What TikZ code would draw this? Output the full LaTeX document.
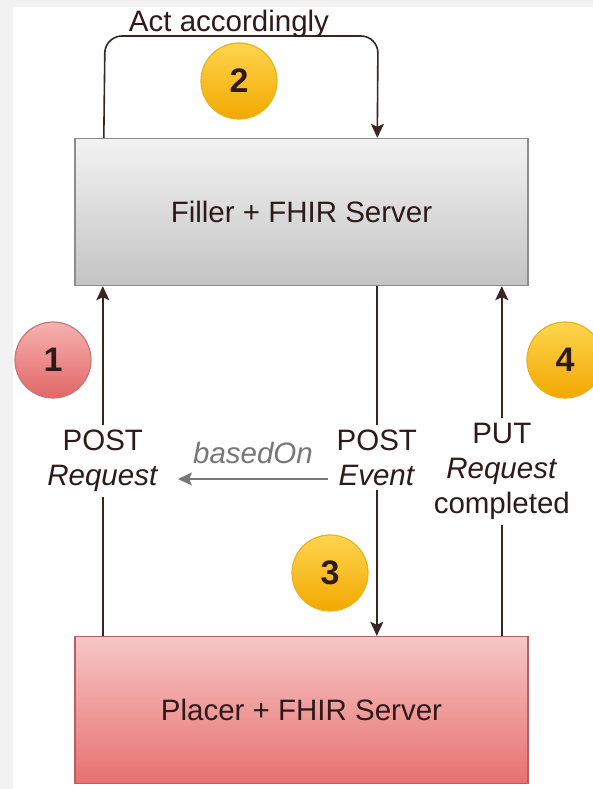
\documentclass[tikz,border=0pt]{standalone}
\usepackage{fontspec}
\setmainfont{Liberation Sans}
\usetikzlibrary{arrows.meta}
\definecolor{bgc}{HTML}{F2F2F2}
\definecolor{linec}{HTML}{3A2424}
\definecolor{txtc}{HTML}{2E1A1A}
\definecolor{fillertop}{HTML}{F2F2F2}
\definecolor{fillerbot}{HTML}{C4C4C4}
\definecolor{fillerdraw}{HTML}{8C8C8C}
\definecolor{placertop}{HTML}{F6C6C6}
\definecolor{placerbot}{HTML}{E8716F}
\definecolor{placerdraw}{HTML}{B86060}
\definecolor{redtop}{HTML}{F6B2B0}
\definecolor{redbot}{HTML}{E26666}
\definecolor{reddraw}{HTML}{C87878}
\definecolor{yeltop}{HTML}{FFD54F}
\definecolor{yelbot}{HTML}{F2A800}
\definecolor{yeldraw}{HTML}{EDB21A}
\definecolor{greyarrow}{HTML}{777777}
\tikzset{
  server/.style={draw=#1, line width=1.4pt, minimum width=453pt, minimum height=147pt,
    text=txtc, inner sep=0pt},
  conn/.style={draw=linec, line width=1.6pt},
  tip/.style={-{Stealth[length=14pt,width=13pt,inset=3pt]}},
  lbl/.style={fill=white, align=center, inner sep=5pt, text=txtc},
  badge/.style={circle, minimum size=76pt, inner sep=0pt, line width=1.2pt,
    font=\fontsize{34}{34}\selectfont\bfseries, text=txtc},
  redbadge/.style={badge, draw=reddraw, top color=redtop, bottom color=redbot},
  yelbadge/.style={badge, draw=yeldraw, top color=yeltop, bottom color=yelbot},
}
\begin{document}
\begin{tikzpicture}[x=1pt, y=-1pt, font=\fontsize{29.5}{35}\selectfont]
\useasboundingbox (0,0) rectangle (593,789);
\clip (0,0) rectangle (593,789);
\fill[bgc] (0,0) rectangle (593,789);
\fill[white] (13,7) rectangle (593,789);

% servers
\node[server=fillerdraw, top color=fillertop, bottom color=fillerbot] (filler) at (301.5,212) {Filler + FHIR Server};
\node[server=placerdraw, top color=placertop, bottom color=placerbot] (placer) at (301.5,710) {Placer + FHIR Server};

% badges
\node[redbadge] (b1) at (53,360) {1};
\node[yelbadge] (b2) at (239,81) {2};
\node[yelbadge] (b3) at (330,573) {3};
\node[yelbadge] (b4) at (565,360) {4};

% top loop
\coordinate (tl) at (105,36);
\coordinate (tr) at (378,36);
\draw[conn, tip, rounded corners=17pt] ([xshift=29.5pt]filler.north west) -- (tl) -- (tr) -- ([xshift=303pt]filler.north west);
\node[anchor=base, text=txtc, inner sep=0pt] (act) at (229,32) {Act accordingly};

% vertical connectors
\draw[conn, tip] ([xshift=28.5pt]placer.north west) -- node[lbl] (lreq) {POST\\\textit{Request}} ([xshift=28.5pt]filler.south west);
\draw[conn, tip] ([xshift=302.5pt]filler.south west) -- node[lbl, pos=0.49] (lev) {POST\\\textit{Event}} ([xshift=302.5pt]placer.north west);
\draw[conn, tip] ([xshift=427.5pt]placer.north west) -- node[lbl, pos=0.47] (lput) {PUT\\\textit{Request}\\completed} ([xshift=427.5pt]filler.south west);

% basedOn
\coordinate (bo1) at (328,479);
\coordinate (bo2) at (178,479);
\draw[draw=greyarrow, line width=1.6pt, tip] (bo1) -- node[midway, anchor=base, yshift=16pt, inner sep=0pt, text=greyarrow] (bon) {\itshape basedOn} (bo2);
\end{tikzpicture}
\end{document}
